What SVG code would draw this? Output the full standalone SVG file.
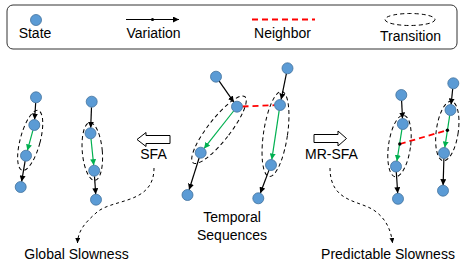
<svg xmlns="http://www.w3.org/2000/svg" width="471" height="262" viewBox="0 0 471 262">
<defs>
<marker id="ah" markerUnits="userSpaceOnUse" markerWidth="7" markerHeight="6" refX="6" refY="3" orient="auto"><path d="M0,0 L6,3 L0,6 z" fill="#000"/></marker>
<marker id="ahg" markerUnits="userSpaceOnUse" markerWidth="7" markerHeight="6" refX="6" refY="3" orient="auto"><path d="M0,0 L6,3 L0,6 z" fill="#00B050"/></marker>
<marker id="ahs" markerUnits="userSpaceOnUse" markerWidth="6" markerHeight="5" refX="5" refY="2.5" orient="auto"><path d="M0,0 L5,2.5 L0,5 z" fill="#000"/></marker>
</defs>
<style>
text{font-family:"Liberation Sans",Arial,sans-serif;font-size:14px;fill:#000;text-anchor:middle}
.st{fill:#5B9BD5;stroke:#41719C;stroke-width:0.8}
.var{stroke:#000;stroke-width:1.2;fill:none;marker-end:url(#ah)}
.grn{stroke:#00B050;stroke-width:1.2;fill:none;marker-end:url(#ahg)}
.nb{stroke:#FF0000;stroke-width:1.8;stroke-dasharray:6 4;fill:none}
.tr{fill:none;stroke:#000;stroke-width:1;stroke-dasharray:4 3}
.cv{fill:none;stroke:#000;stroke-width:1;stroke-dasharray:3 3;marker-end:url(#ahs)}
.blk{fill:#fff;stroke:#000;stroke-width:1}
</style>
<g id="legend">
<rect x="7" y="5" width="450" height="44" rx="6" fill="#fff" stroke="#333" stroke-width="1"/>
<circle class="st" cx="36" cy="20" r="5.5"/>
<text x="35" y="38">State</text>
<line class="var" x1="126" y1="19.5" x2="179" y2="19.5"/>
<circle cx="152.5" cy="19.5" r="1.6" fill="#000"/>
<text x="153.5" y="38">Variation</text>
<line class="nb" x1="252" y1="19.5" x2="315" y2="19.5"/>
<text x="282.5" y="38">Neighbor</text>
<ellipse class="tr" cx="410" cy="19.5" rx="25" ry="6"/>
<text x="410.5" y="41">Transition</text>
</g>
<g id="connectors">
<!-- left panel -->
<line class="var" x1="35.7" y1="102.8" x2="34.6" y2="119.5"/>
<line class="grn" x1="32.9" y1="130.3" x2="27.4" y2="150.4"/>
<line class="var" x1="25.1" y1="161.1" x2="21.6" y2="181.6"/>
<line class="var" x1="91.5" y1="107.2" x2="90.7" y2="127.8"/>
<line class="grn" x1="91" y1="138.8" x2="93.7" y2="165.2"/>
<line class="var" x1="94.5" y1="176.2" x2="95.7" y2="194.2"/>
<!-- middle panel -->
<line class="var" x1="219.2" y1="81.2" x2="233.8" y2="102.2"/>
<line class="grn" x1="233.6" y1="111" x2="204.1" y2="148.4"/>
<line class="var" x1="199.1" y1="158" x2="189.1" y2="189.7"/>
<line class="var" x1="286.4" y1="73.7" x2="281.1" y2="99.6"/>
<line class="grn" x1="279.2" y1="110.4" x2="271.8" y2="159.6"/>
<line class="var" x1="269" y1="170.1" x2="260.3" y2="193.2"/>
<line class="nb" x1="242.5" y1="106.5" x2="274.5" y2="105.2"/>
<!-- right panel -->
<line class="var" x1="401.6" y1="100.5" x2="402.5" y2="118.5"/>
<line class="grn" x1="401.9" y1="129.4" x2="396.9" y2="161.1"/>
<line class="var" x1="396.3" y1="172" x2="397.7" y2="193.3"/>
<line class="var" x1="452.7" y1="88.8" x2="451.1" y2="104.5"/>
<line class="grn" x1="449.7" y1="115.4" x2="444.8" y2="147.6"/>
<line class="var" x1="443.9" y1="158.5" x2="443.1" y2="185.2"/>
<line class="nb" x1="399.8" y1="144" x2="447.4" y2="130.2"/>
<circle cx="399.8" cy="144" r="1.7" fill="#000"/>
<circle cx="447.4" cy="130.2" r="1.7" fill="#000"/>
<!-- block arrows and curves -->
<polygon class="blk" points="137,139.5 146,132.5 146,135.5 170,135.5 170,143.5 146,143.5 146,146.5"/>
<polygon class="blk" points="314,134.5 338,134.5 338,131 346.5,138.5 338,146 338,142.5 314,142.5"/>
<path class="cv" d="M154,168 C154,205 112,198 96,213 C86,222 78,230 77.5,243"/>
<path class="cv" d="M330,168 C330,203 360,200 375,211 C386,219 391,230 392.5,243"/>
</g>
<g id="transitions">
<ellipse class="tr" cx="0" cy="0" rx="10" ry="31" transform="translate(30.2,140.4) rotate(15)"/>
<ellipse class="tr" cx="0" cy="0" rx="10" ry="29" transform="translate(92.3,151.5) rotate(-5)"/>
<ellipse class="tr" cx="0" cy="0" rx="11" ry="42" transform="translate(219,129.7) rotate(38)"/>
<ellipse class="tr" cx="0" cy="0" rx="12" ry="43" transform="translate(275.5,134) rotate(8.5)"/>
<ellipse class="tr" cx="0" cy="0" rx="11" ry="31" transform="translate(399.5,146) rotate(8)"/>
<ellipse class="tr" cx="0" cy="0" rx="11" ry="30" transform="translate(447.3,131) rotate(8)"/>
</g>
<g id="states">
<circle class="st" cx="36" cy="97.3" r="5.5"/>
<circle class="st" cx="34.3" cy="125" r="5.5"/>
<circle class="st" cx="26" cy="155.7" r="5.5"/>
<circle class="st" cx="20.7" cy="187" r="5.5"/>
<circle class="st" cx="91.7" cy="101.7" r="5.5"/>
<circle class="st" cx="90.5" cy="133.3" r="5.5"/>
<circle class="st" cx="94.2" cy="170.7" r="5.5"/>
<circle class="st" cx="96" cy="199.7" r="5.5"/>
<circle class="st" cx="216" cy="76.7" r="5.5"/>
<circle class="st" cx="237" cy="106.7" r="5.5"/>
<circle class="st" cx="200.7" cy="152.7" r="5.5"/>
<circle class="st" cx="187.5" cy="195" r="5.5"/>
<circle class="st" cx="287.5" cy="68.3" r="5.5"/>
<circle class="st" cx="280" cy="105" r="5.5"/>
<circle class="st" cx="271" cy="165" r="5.5"/>
<circle class="st" cx="258.3" cy="198.3" r="5.5"/>
<circle class="st" cx="401.3" cy="95" r="5.5"/>
<circle class="st" cx="402.8" cy="124" r="5.5"/>
<circle class="st" cx="396" cy="166.5" r="5.5"/>
<circle class="st" cx="398" cy="198.8" r="5.5"/>
<circle class="st" cx="453.3" cy="83.3" r="5.5"/>
<circle class="st" cx="450.5" cy="110" r="5.5"/>
<circle class="st" cx="444" cy="153" r="5.5"/>
<circle class="st" cx="443" cy="190.7" r="5.5"/>
</g>
<g id="labels">
<text x="153.5" y="159">SFA</text>
<text x="331.5" y="158.5">MR-SFA</text>
<text x="232" y="221.5">Temporal</text>
<text x="232" y="240">Sequences</text>
<text x="76.5" y="259">Global Slowness</text>
<text x="388" y="259">Predictable Slowness</text>
</g>
</svg>
